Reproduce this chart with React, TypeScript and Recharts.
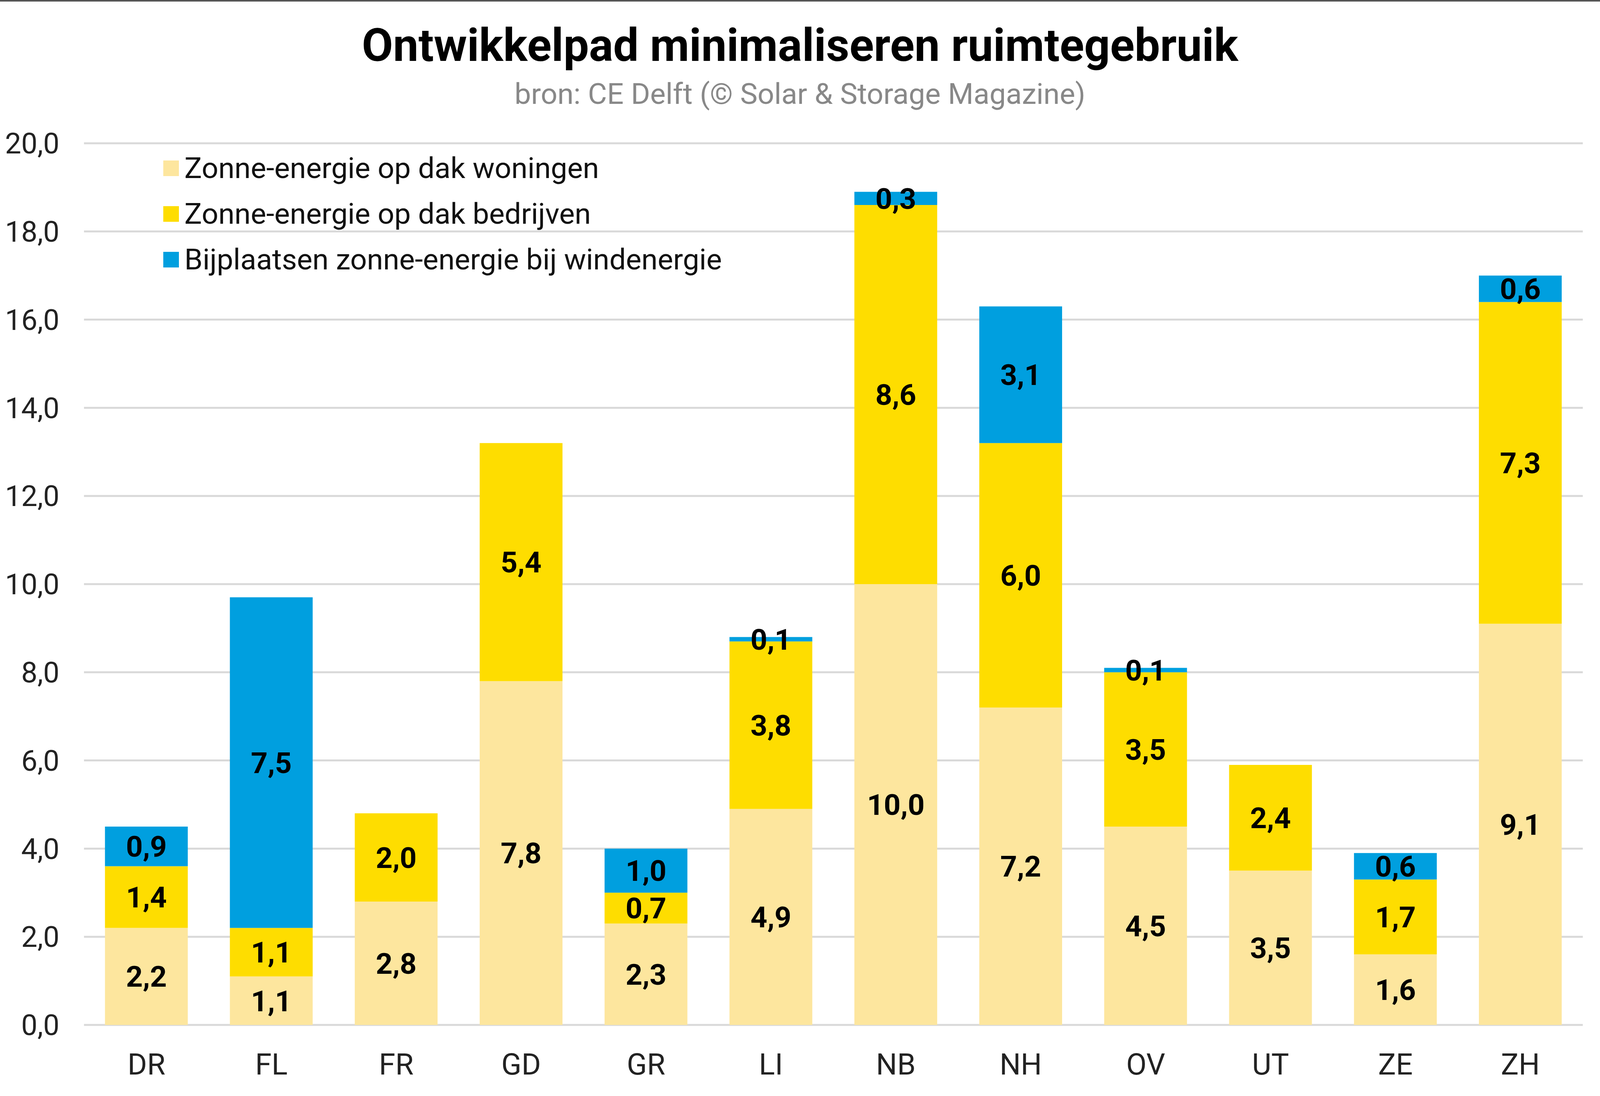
import { BarChart, Bar, XAxis, YAxis, CartesianGrid, LabelList } from 'recharts'

const provinces = ['DR', 'FL', 'FR', 'GD', 'GR', 'LI', 'NB', 'NH', 'OV', 'UT', 'ZE', 'ZH']
const woningen = [2.2, 1.1, 2.8, 7.8, 2.3, 4.9, 10.0, 7.2, 4.5, 3.5, 1.6, 9.1]
const bedrijven = [1.4, 1.1, 2.0, 5.4, 0.7, 3.8, 8.6, 6.0, 3.5, 2.4, 1.7, 7.3]
const wind = [0.9, 7.5, null, null, 1.0, 0.1, 0.3, 3.1, 0.1, null, 0.6, 0.6]
const yTicks = [0, 2, 4, 6, 8, 10, 12, 14, 16, 18, 20]

const series = [
  { key: 'woningen', name: 'Zonne-energie op dak woningen', color: '#fde69e' },
  { key: 'bedrijven', name: 'Zonne-energie op dak bedrijven', color: '#fedd00' },
  { key: 'wind', name: 'Bijplaatsen zonne-energie bij windenergie', color: '#009fdf' },
]

const data = provinces.map((p, i) => ({
  name: p,
  woningen: woningen[i],
  bedrijven: bedrijven[i],
  wind: wind[i],
}))

const W = 4964
const H = 2807

const fmt = (v: number) => v.toFixed(1).replace('.', ',')
const labelFmt = (v: any) => (v == null || v === 0 ? '' : fmt(Number(v)))

export default function App() {
  // the browser may be narrower than the target; squeeze horizontally, keep the height
  const kx = typeof window !== 'undefined' ? Math.min(1, window.innerWidth / W) : 1
  const fs = Math.sqrt(kx)
  const CW = Math.floor(W * kx)
  const x = (v: number) => Math.round(v * kx)
  const f = (v: number) => Math.round(v * fs)

  return (
    <div
      style={{
        position: 'relative',
        width: CW,
        height: H,
        background: '#fff',
        fontFamily: 'Roboto, sans-serif',
        overflow: 'hidden',
      }}
    >
      <style>{'body{margin:0;overflow:hidden}'}</style>
      <div style={{ position: 'absolute', top: 0, left: 0, width: CW, height: 4, background: '#555' }} />
      <div
        style={{
          position: 'absolute',
          top: 117 - f(128) * 0.6,
          width: '100%',
          textAlign: 'center',
          fontSize: f(128),
          fontWeight: 'bold',
          color: '#000',
          lineHeight: 1.2,
        }}
      >
        Ontwikkelpad minimaliseren ruimtegebruik
      </div>
      <div
        style={{
          position: 'absolute',
          top: 240 - f(83) * 0.6,
          width: '100%',
          textAlign: 'center',
          fontSize: f(83),
          color: '#888',
          lineHeight: 1.2,
        }}
      >
        bron: CE Delft (© Solar &amp; Storage Magazine)
      </div>
      <div style={{ position: 'absolute', top: 0, left: 0 }}>
        <BarChart
          width={CW}
          height={H}
          data={data}
          margin={{ top: 367, right: x(53), bottom: 82, left: 0 }}
          barCategoryGap="16.8%"
        >
          <CartesianGrid vertical={false} stroke="#d9d9d9" strokeWidth={5} />
          <XAxis
            dataKey="name"
            axisLine={false}
            tickLine={false}
            tickSize={0}
            tickMargin={100 - Math.round(f(84) * 0.355)}
            height={100}
            tick={{ fontSize: f(84), fill: '#222' }}
          />
          <YAxis
            width={x(260)}
            domain={[0, 20]}
            ticks={yTicks}
            axisLine={false}
            tickLine={false}
            tickSize={0}
            tickMargin={x(76)}
            tickFormatter={fmt}
            tick={{ fontSize: f(82), fill: '#222' }}
          />
          {series.map((s) => (
            <Bar key={s.key} dataKey={s.key} name={s.name} stackId="a" fill={s.color} isAnimationActive={false}>
              <LabelList
                dataKey={s.key}
                position="center"
                formatter={labelFmt}
                style={{ fontSize: f(83), fontWeight: 'bold', fill: '#000' }}
              />
            </Bar>
          ))}
        </BarChart>
      </div>
      <div style={{ position: 'absolute', left: x(506), top: 372 }}>
        {series.map((s) => (
          <div key={s.key} style={{ display: 'flex', alignItems: 'center', height: 117 }}>
            <div style={{ width: f(44), height: f(44), background: s.color, marginRight: x(17) }} />
            <span style={{ fontSize: f(83), color: '#111', lineHeight: 1 }}>{s.name}</span>
          </div>
        ))}
      </div>
    </div>
  )
}
